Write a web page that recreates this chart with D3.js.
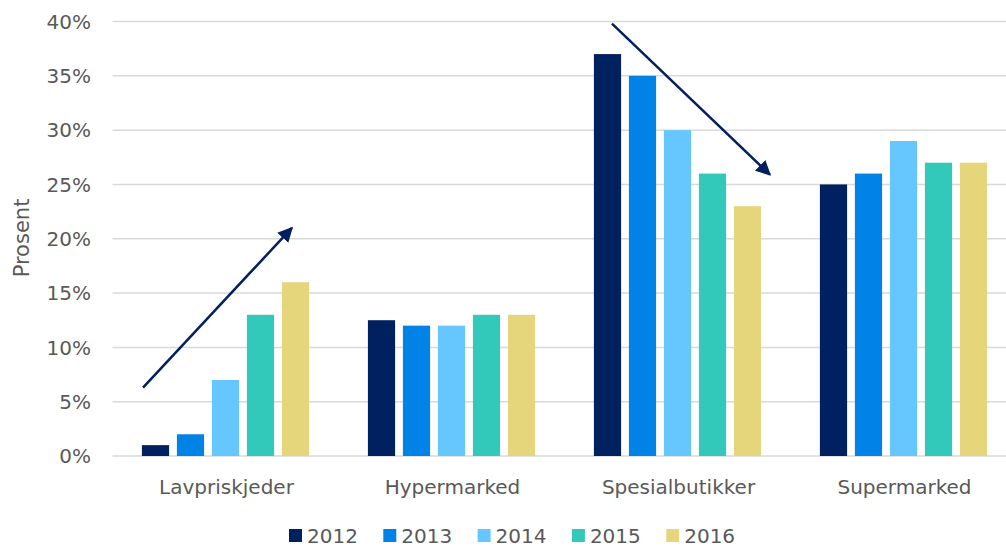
<html>
<head>
<script src="https://d3js.org/d3.v7.min.js"></script>
<style>
body { margin: 0; background: #fff; font-family: 'DejaVu Sans', sans-serif; }
</style>
</head>
<body>
<div id="plot"></div>
<script>

var width = 1006;
var height = 547;

var categories = ["Lavpriskjeder", "Hypermarked", "Spesialbutikker", "Supermarked"];
var years = ["2012", "2013", "2014", "2015", "2016"];
var colors = ["#002060", "#0082E6", "#66C7FF", "#33C9BA", "#E5D67C"];

// one array per year, values per category (percent)
var v2012 = [1, 12.5, 37, 25];
var v2013 = [2, 12, 35, 26];
var v2014 = [7, 12, 30, 29];
var v2015 = [13, 13, 26, 27];
var v2016 = [16, 13, 23, 27];
var series = [v2012, v2013, v2014, v2015, v2016];

var yTicks = [0, 5, 10, 15, 20, 25, 30, 35, 40];

// trend arrows: category, position inside the band (0..1), value
var arrowUp = [{ cat: "Lavpriskjeder", f: 0.135, v: 6.3 }, { cat: "Lavpriskjeder", f: 0.794, v: 21 }];
var arrowDown = [{ cat: "Spesialbutikker", f: 0.21, v: 39.8 }, { cat: "Spesialbutikker", f: 0.909, v: 25.9 }];

// the plot runs a little past the right edge of the picture
var plotLeft = 112.5, plotRight = 1016.5, plotTop = 21.5, plotBottom = 456;

var svg = d3.select("#plot").append("svg").attr("width", width).attr("height", height);

svg.append("defs").append("marker")
.attr("id", "head")
.attr("viewBox", "0 0 10 10")
.attr("refX", 9).attr("refY", 5)
.attr("markerWidth", 6).attr("markerHeight", 6)
.attr("markerUnits", "strokeWidth")
.attr("orient", "auto")
.append("path").attr("d", "M0,0 L10,5 L0,10 Z").style("fill", "#002060");

var x0 = d3.scaleBand().domain(categories).range([plotLeft, plotRight]);
var x1 = d3.scaleBand().domain(years).range([0, x0.bandwidth()])
.paddingInner(0.223).paddingOuter(0.84);
var y = d3.scaleLinear().domain([0, 40]).range([plotBottom, plotTop]);

// gridlines
svg.selectAll(".grid").data(yTicks).enter().append("line")
.attr("class", "grid")
.attr("x1", plotLeft).attr("x2", width)
.attr("y1", function(d) { return y(d); })
.attr("y2", function(d) { return y(d); })
.style("stroke", "#d9d9d9")
.style("stroke-width", 1.5);

svg.selectAll(".ytick").data(yTicks).enter().append("text")
.attr("class", "ytick")
.attr("x", 91)
.attr("y", function(d) { return y(d); })
.attr("dy", "0.36em")
.attr("text-anchor", "end")
.style("font-size", "20px")
.style("fill", "#595959")
.text(function(d) { return d + "%"; });

svg.append("text")
.attr("transform", "translate(29," + 238 + ") rotate(-90)")
.attr("text-anchor", "middle")
.style("font-size", "21px")
.style("fill", "#595959")
.text("Prosent");

// bars
var groups = svg.selectAll(".group").data(categories).enter().append("g")
.attr("transform", function(d) { return "translate(" + x0(d) + ",0)"; });

groups.selectAll("rect")
.data(function(c, ci) {
	return years.map(function(yr, i) { return { year: yr, i: i, value: series[i][ci] }; });
})
.enter().append("rect")
.attr("x", function(d) { return x1(d.year); })
.attr("width", x1.bandwidth())
.attr("y", function(d) { return y(d.value); })
.attr("height", function(d) { return plotBottom - y(d.value); })
.style("fill", function(d) { return colors[d.i]; });

// category labels
svg.selectAll(".xlab").data(categories).enter().append("text")
.attr("x", function(d) { return x0(d) + x0.bandwidth() / 2 + 1; })
.attr("y", 494)
.attr("text-anchor", "middle")
.style("font-size", "20px")
.style("fill", "#595959")
.text(function(d) { return d; });

// arrows
[arrowUp, arrowDown].forEach(function(a) {
	svg.append("line")
	.attr("x1", x0(a[0].cat) + a[0].f * x0.bandwidth())
	.attr("y1", y(a[0].v))
	.attr("x2", x0(a[1].cat) + a[1].f * x0.bandwidth())
	.attr("y2", y(a[1].v))
	.style("stroke", "#002060")
	.style("stroke-width", 2.5)
	.attr("marker-end", "url(#head)");
});

// legend
var legend = svg.selectAll(".legend").data(years).enter().append("g")
.attr("transform", function(d, i) { return "translate(" + (289 + i * 94.3) + ",529)"; });

legend.append("rect")
.attr("width", 13).attr("height", 13)
.style("fill", function(d, i) { return colors[i]; });

legend.append("text")
.attr("x", 18).attr("y", 6.5).attr("dy", "0.36em")
.style("font-size", "20px")
.style("fill", "#595959")
.text(function(d) { return d; });

</script>
</body>
</html>
